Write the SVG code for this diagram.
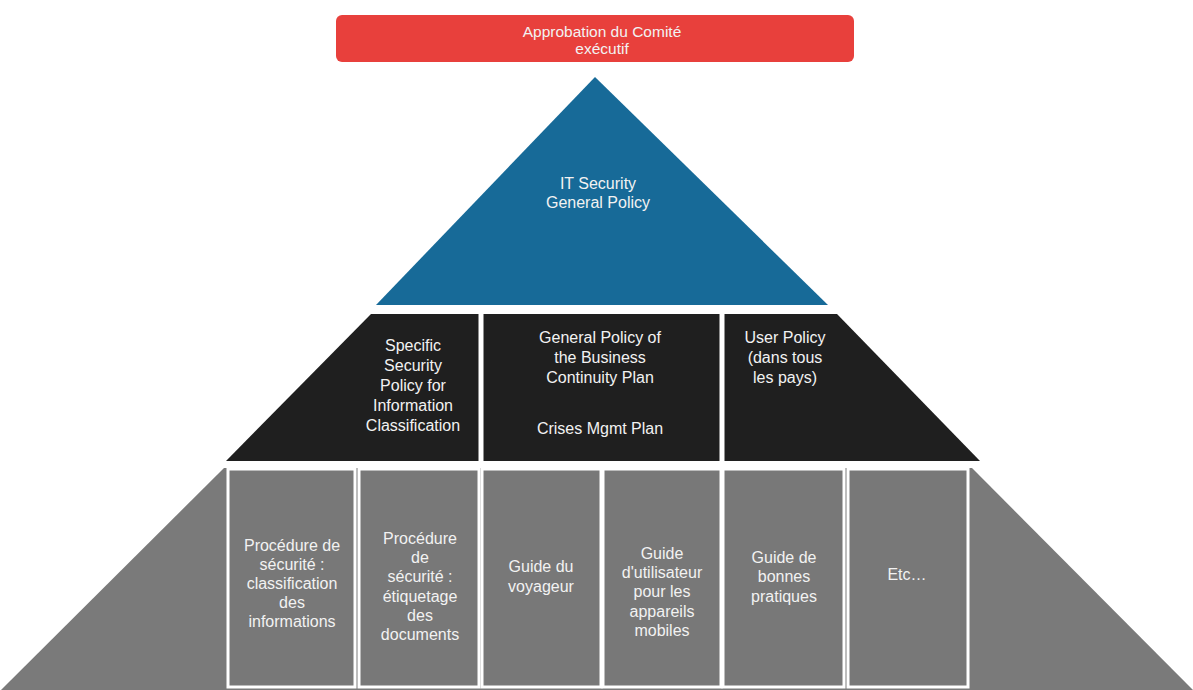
<svg xmlns="http://www.w3.org/2000/svg" width="1193" height="690" viewBox="0 0 1193 690">
  <style>
    .lbl { font-family: "Liberation Sans", Arial, sans-serif; font-size: 16px; fill: #f2f2f2; text-anchor: middle; }
    .small { font-size: 15.5px; }
    .box { fill: #787878; stroke: #ffffff; stroke-width: 3; }
    .divider { stroke: #ffffff; stroke-width: 5; }
  </style>
  <rect width="1193" height="690" fill="#ffffff"/>

  <!-- Top approval banner -->
  <g id="approval">
    <rect x="336" y="15" width="518" height="47" rx="6" fill="#e8403c"/>
    <text class="lbl small" x="602" y="37">Approbation du Comité</text>
    <text class="lbl small" x="602" y="54">exécutif</text>
  </g>

  <!-- Pyramid apex: general policy -->
  <g id="general-policy">
    <polygon points="595,77 828,305 376,305" fill="#176a98"/>
    <text class="lbl" x="598" y="189">IT Security</text>
    <text class="lbl" x="598" y="208">General Policy</text>
  </g>

  <!-- Middle tier: specific policies -->
  <g id="policy-tier">
    <polygon points="371,314 837,314 980,461 226,461" fill="#1f1f1f"/>
    <line class="divider" x1="481" y1="312" x2="481" y2="462"/>
    <line class="divider" x1="722" y1="312" x2="722" y2="462"/>
  </g>
  <g id="specific-security-policy">
    <text class="lbl" x="413" y="351">Specific</text>
    <text class="lbl" x="413" y="371">Security</text>
    <text class="lbl" x="413" y="391">Policy for</text>
    <text class="lbl" x="413" y="411">Information</text>
    <text class="lbl" x="413" y="431">Classification</text>
  </g>
  <g id="business-continuity">
    <text class="lbl" x="600" y="343">General Policy of</text>
    <text class="lbl" x="600" y="363">the Business</text>
    <text class="lbl" x="600" y="383">Continuity Plan</text>
    <text class="lbl" x="600" y="434">Crises Mgmt Plan</text>
  </g>
  <g id="user-policy">
    <text class="lbl" x="785" y="343">User Policy</text>
    <text class="lbl" x="785" y="363">(dans tous</text>
    <text class="lbl" x="785" y="383">les pays)</text>
  </g>

  <!-- Base tier: procedures and guides -->
  <g id="procedure-tier">
    <polygon points="224,468 972,468 1193,690 1,690" fill="#7a7a7a"/>
  </g>
  <g id="proc-classification">
    <rect class="box" x="228" y="469" width="127" height="218"/>
    <text class="lbl" x="292" y="551">Procédure de</text>
    <text class="lbl" x="292" y="570">sécurité :</text>
    <text class="lbl" x="292" y="589">classification</text>
    <text class="lbl" x="292" y="608">des</text>
    <text class="lbl" x="292" y="627">informations</text>
  </g>
  <g id="proc-labelling">
    <rect class="box" x="359" y="469" width="120" height="218"/>
    <text class="lbl" x="420" y="544">Procédure</text>
    <text class="lbl" x="420" y="563">de</text>
    <text class="lbl" x="420" y="582">sécurité :</text>
    <text class="lbl" x="420" y="602">étiquetage</text>
    <text class="lbl" x="420" y="621">des</text>
    <text class="lbl" x="420" y="640">documents</text>
  </g>
  <g id="travel-guide">
    <rect class="box" x="482" y="469" width="119" height="218"/>
    <text class="lbl" x="541" y="572">Guide du</text>
    <text class="lbl" x="541" y="592">voyageur</text>
  </g>
  <g id="mobile-guide">
    <rect class="box" x="603" y="469" width="118" height="218"/>
    <text class="lbl" x="662" y="559">Guide</text>
    <text class="lbl" x="662" y="578">d'utilisateur</text>
    <text class="lbl" x="662" y="597">pour les</text>
    <text class="lbl" x="662" y="617">appareils</text>
    <text class="lbl" x="662" y="636">mobiles</text>
  </g>
  <g id="good-practice">
    <rect class="box" x="723" y="469" width="121" height="218"/>
    <text class="lbl" x="784" y="563">Guide de</text>
    <text class="lbl" x="784" y="582">bonnes</text>
    <text class="lbl" x="784" y="602">pratiques</text>
  </g>
  <g id="etc">
    <rect class="box" x="848" y="469" width="120" height="218"/>
    <text class="lbl" x="907" y="580">Etc…</text>
  </g>

  <!-- No connectors in this diagram -->
  <g id="connectors"/>
</svg>
